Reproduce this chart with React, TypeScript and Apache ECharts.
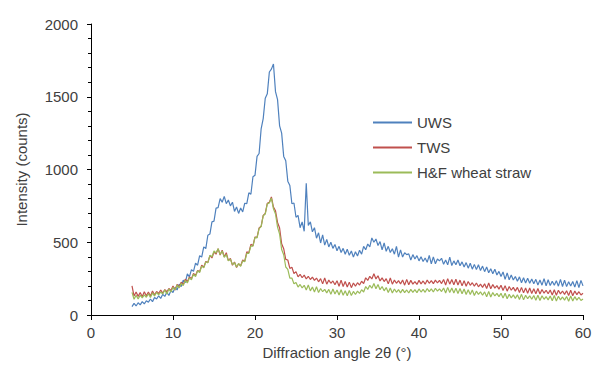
import React, { useEffect, useRef } from "react";
import * as echarts from "echarts";

const startAngle = 5;
const angleStep = 0.25;

const seriesNames = ["UWS", "TWS", "H&F wheat straw"];
const seriesColors = ["#4F81BD", "#C0504D", "#9BBB59"];

const uws = [
  58, 80, 62, 84,
  70, 92, 76, 98,
  88, 110, 92, 120,
  110, 132, 114, 142,
  128, 156, 134, 168,
  155, 190, 172, 212,
  195, 240, 222, 282,
  262, 312, 300, 356,
  342, 408, 398, 468,
  456, 548, 556, 640,
  645, 735, 738, 800,
  775, 815, 765, 790,
  750, 775, 712, 742,
  698, 735, 708, 768,
  765, 840, 830, 950,
  960, 1090, 1110, 1280,
  1350, 1490, 1520, 1670,
  1690, 1725, 1535, 1480,
  1300, 1250, 1090, 1060,
  920, 890, 765, 770,
  672, 685, 600, 640,
  575, 905, 615, 640,
  572, 600, 528, 565,
  495, 550, 480, 520,
  468, 500, 458, 485,
  442, 472, 430, 458,
  418, 452, 410, 440,
  398, 435, 405, 445,
  418, 472, 448, 488,
  468, 530, 500, 522,
  478, 505, 448, 495,
  438, 472, 430, 455,
  418, 472, 398, 448,
  398, 428, 415, 420,
  378, 415, 385, 408,
  372, 400, 368, 392,
  362, 410, 352, 400,
  352, 385, 372, 390,
  348, 378, 345, 398,
  340, 372, 345, 378,
  338, 365, 330, 360,
  322, 356, 315, 348,
  312, 345, 305, 336,
  298, 330, 290, 318,
  283, 315, 275, 300,
  265, 296, 245, 290,
  242, 275, 240, 265,
  232, 262, 222, 256,
  220, 252, 218, 248,
  215, 245, 206, 240,
  205, 250, 200, 242,
  202, 232, 204, 236,
  198, 245, 196, 240,
  195, 228, 200, 230,
  192, 236, 188, 238,
  200,
];

const tws = [
  200, 130, 158, 128,
  155, 126, 160, 132,
  158, 130, 165, 138,
  162, 148, 172, 150,
  175, 160, 182, 168,
  200, 172, 210, 192,
  226, 208, 246, 228,
  262, 250, 286, 272,
  306, 298, 342, 328,
  368, 360, 408, 392,
  432, 418, 456, 412,
  446, 400, 428, 374,
  388, 342, 364, 326,
  352, 338, 378, 370,
  434, 428, 486, 476,
  536, 534, 598, 610,
  684, 698, 768, 775,
  812, 742, 716, 636,
  598, 490, 456, 382,
  378, 320, 328, 284,
  298, 262, 280, 256,
  274, 248, 266, 244,
  260, 238, 254, 228,
  250, 214, 254, 212,
  240, 218, 234, 208,
  236, 198, 240, 196,
  230, 192, 226, 188,
  220, 198, 222, 206,
  232, 216, 256, 238,
  266, 248, 284, 248,
  270, 234, 255, 230,
  250, 214, 254, 212,
  240, 218, 236, 214,
  240, 205, 245, 208,
  238, 212, 230, 210,
  238, 214, 234, 212,
  240, 218, 236, 216,
  240, 220, 238, 216,
  244, 206, 250, 212,
  244, 208, 246, 206,
  240, 200, 236, 198,
  230, 204, 222, 198,
  220, 194, 212, 190,
  215, 182, 220, 180,
  210, 185, 202, 178,
  205, 168, 202, 164,
  196, 170, 190, 164,
  190, 154, 190, 152,
  185, 150, 186, 148,
  180, 146, 182, 144,
  175, 150, 170, 146,
  172, 138, 174, 136,
  170, 145, 165, 142,
  167, 134, 170, 132,
  165, 140, 160, 138,
  150,
];

const hfWheatStraw = [
  155, 108, 136, 110,
  136, 118, 138, 122,
  146, 120, 152, 130,
  156, 138, 158, 144,
  172, 144, 178, 158,
  190, 172, 206, 186,
  218, 202, 238, 220,
  254, 242, 280, 264,
  304, 292, 336, 324,
  364, 360, 410, 400,
  440, 426, 456, 416,
  440, 396, 416, 372,
  384, 346, 360, 330,
  354, 334, 372, 366,
  424, 424, 474, 474,
  534, 530, 594, 608,
  682, 694, 764, 770,
  804, 730, 694, 604,
  556, 450, 414, 330,
  314, 254, 254, 214,
  224, 192, 210, 186,
  204, 172, 206, 166,
  192, 158, 194, 154,
  182, 160, 176, 152,
  176, 142, 179, 144,
  172, 138, 174, 136,
  166, 132, 169, 134,
  162, 141, 164, 148,
  174, 158, 196, 176,
  204, 184, 216, 181,
  209, 174, 196, 166,
  189, 154, 186, 151,
  179, 156, 174, 152,
  176, 154, 172, 151,
  176, 156, 174, 154,
  179, 158, 176, 156,
  182, 161, 179, 158,
  184, 164, 180, 161,
  186, 151, 190, 154,
  186, 151, 184, 148,
  182, 146, 179, 141,
  174, 141, 172, 134,
  164, 141, 159, 136,
  159, 126, 162, 124,
  154, 131, 149, 126,
  149, 116, 150, 112,
  142, 118, 138, 114,
  139, 106, 142, 104,
  136, 112, 132, 108,
  134, 101, 136, 100,
  132, 108, 126, 104,
  130, 98, 134, 96,
  129, 104, 124, 102,
  127, 94, 130, 96,
  126, 102, 122, 100,
  110,
];

const xTicks = [0, 10, 20, 30, 40, 50, 60];
const yTicks = [0, 500, 1000, 1500, 2000];

const FONT = "'Liberation Sans', Arial, sans-serif";
const TEXT = "#404040";

function toPairs(values: number[]) {
  return values.map((v, i) => [startAngle + i * angleStep, v]);
}

export default function App() {
  const ref = useRef<HTMLDivElement>(null);
  useEffect(() => {
    if (!ref.current) return;
    const chart = echarts.init(ref.current, null, { renderer: "svg" });
    const allSeries = [uws, tws, hfWheatStraw];
    chart.setOption({
      animation: false,
      textStyle: { fontFamily: FONT },
      grid: { left: 91, right: 19, top: 24, bottom: 57, containLabel: false },
      legend: {
        orient: "vertical",
        left: 373,
        top: 115,
        padding: 0,
        itemWidth: 39,
        itemHeight: 2,
        itemGap: 10,
        icon: "rect",
        textStyle: { fontFamily: FONT, fontSize: 15, color: TEXT },
        data: seriesNames,
      },
      xAxis: {
        type: "value",
        min: xTicks[0],
        max: xTicks[xTicks.length - 1],
        interval: 10,
        name: "Diffraction angle 2θ (°)",
        nameLocation: "middle",
        nameGap: 25,
        nameTextStyle: { fontFamily: FONT, fontSize: 15, color: TEXT },
        axisLine: { show: true, onZero: false, lineStyle: { color: "#000", width: 1 } },
        axisTick: { show: true, length: 5, lineStyle: { color: "#000" } },
        axisLabel: { fontFamily: FONT, fontSize: 15, color: TEXT, margin: 10 },
        splitLine: { show: false },
      },
      yAxis: {
        type: "value",
        min: yTicks[0],
        max: yTicks[yTicks.length - 1],
        interval: 500,
        name: "Intensity (counts)",
        nameLocation: "middle",
        nameGap: 62,
        nameTextStyle: { fontFamily: FONT, fontSize: 15, color: TEXT },
        axisLine: { show: true, lineStyle: { color: "#000", width: 1 } },
        axisTick: { show: true, length: 4, lineStyle: { color: "#000" } },
        minorTick: { show: true, splitNumber: 5, length: 3, lineStyle: { color: "#000" } },
        axisLabel: {
          fontFamily: FONT,
          fontSize: 15,
          color: TEXT,
          margin: 13,
          formatter: (v: number) => String(v),
        },
        splitLine: { show: false },
      },
      series: allSeries.map((vals, k) => ({
        name: seriesNames[k],
        type: "line",
        data: toPairs(vals),
        showSymbol: false,
        symbol: "none",
        color: seriesColors[k],
        lineStyle: { width: 1.2, color: seriesColors[k] },
        z: 2 + k,
      })),
    });
    return () => chart.dispose();
  }, []);
  return (
    <div
      ref={ref}
      style={{ position: "absolute", left: 0, top: 0, width: 602, height: 372 }}
    />
  );
}
